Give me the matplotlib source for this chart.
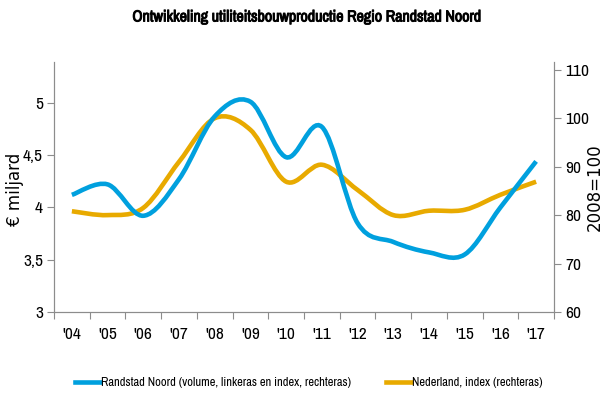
import numpy as np
import matplotlib.pyplot as plt
import matplotlib.patheffects as pe
from matplotlib.path import Path
from matplotlib.patches import PathPatch

years = ["'04", "'05", "'06", "'07", "'08", "'09", "'10", "'11", "'12", "'13",
         "'14", "'15", "'16", "'17"]
# volume in billion euro (left axis); index 2008=100 on the right axis
randstad_noord = [4.12, 4.22, 3.92, 4.27, 4.87, 5.01, 4.48, 4.77, 3.85, 3.67,
                  3.57, 3.55, 4.00, 4.44]
nederland = [80.8, 80.0, 81.5, 91.0, 100.0, 97.6, 86.9, 90.4, 85.2, 80.0,
             80.9, 81.1, 84.2, 86.9]

BLUE = '#00a0de'
YELLOW = '#e8aa00'
GREY = '#8c8c8c'
NARROW = ['Archivo Narrow', 'DejaVu Sans']


def smooth_path(x, y):
    """ Bezier path through the points, Catmull-Rom style smoothing. """
    pts = np.column_stack([x, y]).astype(float)
    padded = np.vstack([pts[0], pts, pts[-1]])
    verts = [pts[0]]
    codes = [Path.MOVETO]
    for i in range(len(pts) - 1):
        p0, p1, p2, p3 = padded[i], padded[i + 1], padded[i + 2], padded[i + 3]
        verts += [p1 + (p2 - p0) / 6, p2 - (p3 - p1) / 6, p2]
        codes += [Path.CURVE4] * 3
    return Path(verts, codes)


fig = plt.figure(figsize=(6.03, 3.94), dpi=100)
ax = fig.add_axes([0.0896, 0.2081, 0.8291, 0.6345])
ax2 = ax.twinx()

x = np.arange(len(years))
ax.add_patch(PathPatch(smooth_path(x, randstad_noord), fill=False,
                       edgecolor=BLUE, lw=3.3, capstyle='butt', zorder=3))
ax2.add_patch(PathPatch(smooth_path(x, nederland), fill=False,
                        edgecolor=YELLOW, lw=3.3, capstyle='butt', zorder=2))
ax.set_zorder(ax2.get_zorder() + 1)
ax.patch.set_visible(False)

ax.set_xlim(-0.5, len(years) - 0.5)
ax.set_ylim(3, 5.39)
ax2.set_ylim(60, 111.6)

ax.set_xticks(np.arange(-0.5, len(years)), minor=False)
ax.set_xticklabels([])
ax.set_xticks(x, minor=True)
ax.set_xticklabels(years, minor=True, family=NARROW, fontsize=12.5)
ax.tick_params(axis='x', which='minor', length=0, pad=11)
ax.tick_params(axis='x', which='major', length=5, color=GREY)

ax.set_yticks([3, 3.5, 4, 4.5, 5])
ax.set_yticklabels(['3', '3,5', '4', '4,5', '5'], family=NARROW, fontsize=12.5)
ax.tick_params(axis='y', length=5, color=GREY, pad=3)
ax2.set_yticks([60, 70, 80, 90, 100, 110])
ax2.set_yticklabels(['60', '70', '80', '90', '100', '110'], family=NARROW,
                    fontsize=12.5)
ax2.tick_params(axis='y', length=5, color=GREY, pad=3)

for a in (ax, ax2):
    a.spines['top'].set_visible(False)
    for side in ('left', 'right', 'bottom'):
        a.spines[side].set_color(GREY)

ax.set_ylabel('€ miljard', fontsize=12, family='DejaVu Sans', va='center')
ax.yaxis.set_label_coords(-0.078, 0.49)
ax2.set_ylabel('2008=100', fontsize=12, family='DejaVu Sans', rotation=90,
               va='center')
ax2.yaxis.set_label_coords(1.082, 0.5)

fig.text(0.509, 0.957, 'Ontwikkeling utiliteitsbouwproductie Regio Randstad Noord',
         ha='center', va='center', family=NARROW, fontsize=11.5,
         path_effects=[pe.withStroke(linewidth=0.7, foreground='black')])

handles = [plt.Line2D([], [], color=BLUE, lw=3.3),
           plt.Line2D([], [], color=YELLOW, lw=3.3)]
labels = ['Randstad Noord (volume, linkeras en index, rechteras)',
          'Nederland, index (rechteras)']
fig.legend(handles, labels, loc='center', bbox_to_anchor=(0.512, 0.028),
           ncol=2, frameon=False, handlelength=2.0, handletextpad=0.1,
           columnspacing=2.8, prop={'family': NARROW, 'size': 9})

plt.savefig('out.png', dpi=100)
plt.close()
